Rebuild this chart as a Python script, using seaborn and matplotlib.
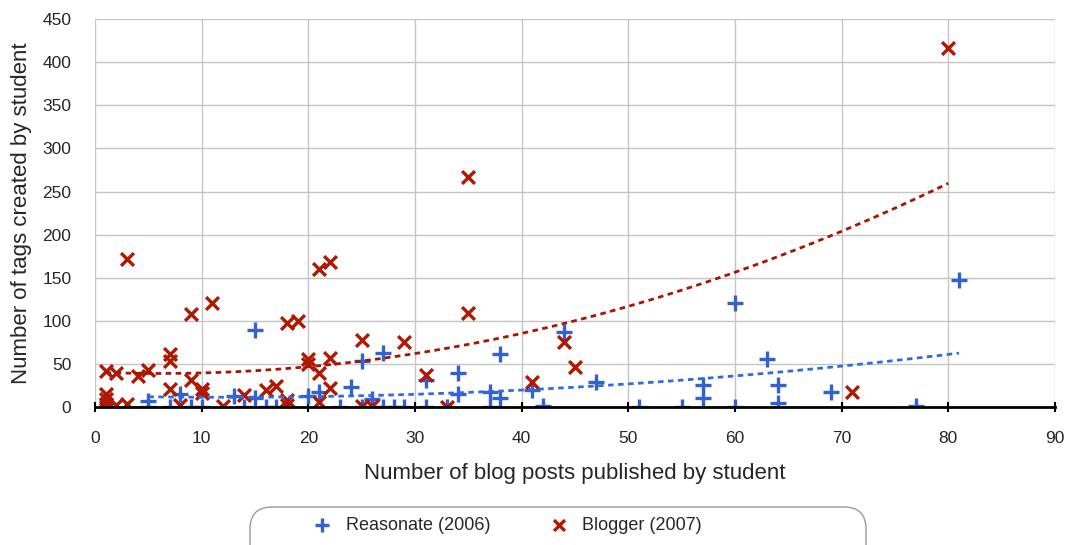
import numpy as np
import pandas as pd
import seaborn as sns
import matplotlib.pyplot as plt
from matplotlib.patches import FancyBboxPatch

# Reasonate (2006): blog posts vs tags per student
reason_posts = [5, 5, 7, 8, 9, 10, 13, 14, 15, 15, 16, 17, 18, 20, 21, 23, 24, 25, 25, 26,
                26, 27, 27, 28, 29, 31, 31, 33, 34, 34, 37, 37, 38, 38, 41, 42, 44, 47, 51,
                55, 57, 57, 60, 60, 63, 64, 64, 69, 77, 81]
reason_tags = [7, 0, 0, 15, 0, 0, 13, 0, 89, 11, 0, 0, 0, 13, 18, 0, 23, 54, 0, 0,
               9, 63, 0, 0, 0, 31, 0, 0, 39, 15, 17, 0, 62, 11, 20, 1, 87, 29, 0,
               0, 26, 11, 121, 0, 56, 26, 5, 17, 1, 147]

# Blogger (2007)
blogger_posts = [1, 2, 1, 1, 1, 1, 2, 3, 3, 4, 5, 7, 7, 7, 8, 9, 9, 10, 10, 11, 12, 14,
                 16, 17, 18, 19, 18, 18, 20, 20, 21, 22, 21, 21, 22, 22, 25, 25, 26, 29,
                 31, 33, 35, 35, 41, 44, 45, 71, 80]
blogger_tags = [42, 40, 15, 9, 4, 0, 3, 4, 172, 36, 43, 62, 54, 21, 2, 108, 31, 21, 16, 121, 1, 14,
                20, 24, 97, 100, 8, 2, 56, 50, 160, 168, 39, 6, 57, 22, 78, 1, 1, 75,
                37, 0, 267, 109, 29, 75, 47, 17, 416]

labels = ["Reasonate (2006)", "Blogger (2007)"]
colors = {"Reasonate (2006)": "#3361d2", "Blogger (2007)": "#b01800"}
trend_colors = {"Reasonate (2006)": "#2e6ae0", "Blogger (2007)": "#a81400"}
markers = {"Reasonate (2006)": ("+", 130, 2.4), "Blogger (2007)": ("x", 85, 2.4)}

df = pd.concat([
    pd.DataFrame({"posts": reason_posts, "tags": reason_tags, "tool": labels[0]}),
    pd.DataFrame({"posts": blogger_posts, "tags": blogger_tags, "tool": labels[1]}),
])

sns.set_theme(style="white")
plt.rcParams["font.family"] = ["Liberation Sans", "DejaVu Sans"]

fig, ax = plt.subplots(figsize=(10.7, 5.45), dpi=100)
fig.subplots_adjust(left=0.0888, right=0.986, top=0.965, bottom=0.253)

for lab in labels:
    sub = df[df.tool == lab]
    m, s, lw = markers[lab]
    sns.scatterplot(data=sub, x="posts", y="tags", marker=m, s=s, linewidth=lw,
                    color=colors[lab], label=lab, ax=ax, zorder=3)
for lab in labels:
    sub = df[df.tool == lab]
    sns.regplot(data=sub, x="posts", y="tags", order=2, scatter=False, ci=None,
                truncate=True, ax=ax,
                line_kws=dict(color=trend_colors[lab], lw=2, ls=(0, (2, 1.6)), zorder=4))

ax.set_xlim(0, 90)
ax.set_ylim(0, 450)
ax.set_xticks(range(0, 91, 10))
ax.set_yticks(range(0, 451, 50))
ax.grid(True, color="#c4c4c4", lw=1)
ax.set_axisbelow(True)
for side in ["left", "top", "right"]:
    ax.spines[side].set_visible(False)
ax.spines["bottom"].set_color("black")
ax.spines["bottom"].set_linewidth(2)
ax.spines["bottom"].set_zorder(5)
ax.tick_params(axis="x", direction="inout", length=7, width=1.5, color="black",
               pad=14, labelsize=12.5, bottom=True)
ax.tick_params(axis="y", length=0, pad=17, labelsize=12.5)
ax.set_xlabel("Number of blog posts published by student", fontsize=16, labelpad=12)
ax.set_ylabel("Number of tags created by student", fontsize=16)
ax.yaxis.set_label_coords(-0.066, 0.5)

# legend in a rounded box at the bottom
ax.legend(loc="center", bbox_to_anchor=(503 / 1070, 1 - 525 / 545),
          bbox_transform=fig.transFigure, ncol=2, frameon=False, fontsize=13,
          columnspacing=2.8, handletextpad=0.3, markerscale=0.85)
box = FancyBboxPatch((2.5, -0.25), 6.16, 0.63, boxstyle="round,pad=0,rounding_size=0.22",
                     transform=fig.dpi_scale_trans, facecolor="white", edgecolor="#9a9a9a",
                     lw=1, zorder=-1)
fig.patches.append(box)

fig.savefig("out.png", dpi=100)
